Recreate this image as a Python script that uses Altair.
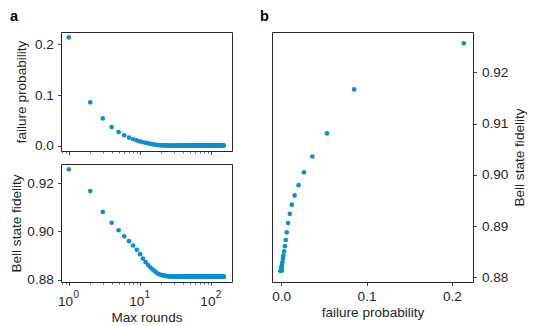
import altair as alt
import pandas as pd

# ---------------- data ----------------
rounds = list(range(1, 151))

failure_prob = [
    0.2140, 0.0855, 0.0537, 0.0366, 0.0267, 0.0204, 0.0158, 0.0125, 0.0102, 0.0082,
    0.0066, 0.0054, 0.0044, 0.0035, 0.0027, 0.0022, 0.0015, 0.0011, 0.0008, 0.0006,
    0.0005, 0.0004, 0.0003, 0.0002, 0.0002, 0.0001, 0.0001, 0.0001, 0.0001, 0.0001,
    0.0, 0.0, 0.0, 0.0, 0.0, 0.0, 0.0, 0.0, 0.0, 0.0,
    0.0, 0.0, 0.0, 0.0, 0.0, 0.0, 0.0, 0.0, 0.0, 0.0,
    0.0, 0.0, 0.0, 0.0, 0.0, 0.0, 0.0, 0.0, 0.0, 0.0,
    0.0, 0.0, 0.0, 0.0, 0.0, 0.0, 0.0, 0.0, 0.0, 0.0,
    0.0, 0.0, 0.0, 0.0, 0.0, 0.0, 0.0, 0.0, 0.0, 0.0,
    0.0, 0.0, 0.0, 0.0, 0.0, 0.0, 0.0, 0.0, 0.0, 0.0,
    0.0, 0.0, 0.0, 0.0, 0.0, 0.0, 0.0, 0.0, 0.0, 0.0,
    0.0, 0.0, 0.0, 0.0, 0.0, 0.0, 0.0, 0.0, 0.0, 0.0,
    0.0, 0.0, 0.0, 0.0, 0.0, 0.0, 0.0, 0.0, 0.0, 0.0,
    0.0, 0.0, 0.0, 0.0, 0.0, 0.0, 0.0, 0.0, 0.0, 0.0,
    0.0, 0.0, 0.0, 0.0, 0.0, 0.0, 0.0, 0.0, 0.0, 0.0,
    0.0, 0.0, 0.0, 0.0, 0.0, 0.0, 0.0, 0.0, 0.0, 0.0,
]

fidelity = [
    0.9257, 0.9167, 0.9081, 0.9036, 0.9005, 0.8980, 0.8960, 0.8942, 0.8924, 0.8906,
    0.8888, 0.8873, 0.8861, 0.8851, 0.8843, 0.8837, 0.8830, 0.8825, 0.8822, 0.8820,
    0.8818, 0.8817, 0.8816, 0.8815, 0.8815, 0.8814, 0.8814, 0.8814, 0.8814, 0.8814,
    0.8813, 0.8813, 0.8813, 0.8813, 0.8813, 0.8813, 0.8813, 0.8813, 0.8813, 0.8813,
    0.8813, 0.8813, 0.8813, 0.8813, 0.8813, 0.8813, 0.8813, 0.8813, 0.8813, 0.8813,
    0.8813, 0.8813, 0.8813, 0.8813, 0.8813, 0.8813, 0.8813, 0.8813, 0.8813, 0.8813,
    0.8813, 0.8813, 0.8813, 0.8813, 0.8813, 0.8813, 0.8813, 0.8813, 0.8813, 0.8813,
    0.8813, 0.8813, 0.8813, 0.8813, 0.8813, 0.8813, 0.8813, 0.8813, 0.8813, 0.8813,
    0.8813, 0.8813, 0.8813, 0.8813, 0.8813, 0.8813, 0.8813, 0.8813, 0.8813, 0.8813,
    0.8813, 0.8813, 0.8813, 0.8813, 0.8813, 0.8813, 0.8813, 0.8813, 0.8813, 0.8813,
    0.8813, 0.8813, 0.8813, 0.8813, 0.8813, 0.8813, 0.8813, 0.8813, 0.8813, 0.8813,
    0.8813, 0.8813, 0.8813, 0.8813, 0.8813, 0.8813, 0.8813, 0.8813, 0.8813, 0.8813,
    0.8813, 0.8813, 0.8813, 0.8813, 0.8813, 0.8813, 0.8813, 0.8813, 0.8813, 0.8813,
    0.8813, 0.8813, 0.8813, 0.8813, 0.8813, 0.8813, 0.8813, 0.8813, 0.8813, 0.8813,
    0.8813, 0.8813, 0.8813, 0.8813, 0.8813, 0.8813, 0.8813, 0.8813, 0.8813, 0.8813,
]

log_tick_values = [0.8, 0.9, 1, 2, 3, 4, 5, 6, 7, 8, 9,
                   10, 20, 30, 40, 50, 60, 70, 80, 90, 100]
decade_ticks = [1, 10, 100]
decade_base = ["10", "10", "10"]
decade_exp = ["0", "1", "2"]
fp_ticks = [0.0, 0.1, 0.2]
fid_ticks_left = [0.88, 0.90, 0.92]
fid_ticks_right = [0.88, 0.89, 0.90, 0.91, 0.92]
panel_a = ["a"]
panel_b = ["b"]

df = pd.DataFrame({"rounds": rounds, "p": failure_prob, "F": fidelity})
ticks_df = pd.DataFrame({"rounds": decade_ticks, "base": decade_base, "exp": decade_exp})

# ---------------- styling ----------------
FONT = "Liberation Sans"
INK = "#262626"
BLUE = "#0b8fd0"
LBL = 13.6
PT = 22

x_log_scale = alt.Scale(type="log", domain=[0.776, 196], nice=False)
fp_scale = alt.Scale(domain=[-0.0107, 0.2247], nice=False, zero=False)
fid_scale = alt.Scale(domain=[0.8791, 0.9279], nice=False, zero=False)

is_major = "datum.value == 1 || datum.value == 10 || datum.value == 100"
tick_size_cond = {"condition": {"test": is_major, "value": 3.4}, "value": 2.0}
tick_width_cond = {"condition": {"test": is_major, "value": 0.9}, "value": 0.7}


def panel_label(letters, xoff, yoff):
    return alt.Chart(pd.DataFrame({"t": letters})).mark_text(
        font=FONT, fontSize=14.5, fontWeight="bold", align="left",
        baseline="top", color="black"
    ).encode(text="t:N", x=alt.value(xoff), y=alt.value(yoff))


# ---------------- panel a (top) ----------------
top_points = alt.Chart(df).mark_circle(size=PT, color=BLUE, opacity=1).encode(
    x=alt.X("rounds:Q", scale=x_log_scale,
            axis=alt.Axis(values=log_tick_values, labels=False, title=None,
                          tickSize=tick_size_cond, tickWidth=tick_width_cond)),
    y=alt.Y("p:Q", scale=fp_scale,
            axis=alt.Axis(values=fp_ticks, format=".1f",
                          title="failure probability", titlePadding=5.5)),
)
top = alt.layer(top_points, panel_label(panel_a, -51, -22)).properties(
    width=171, height=119)

# ---------------- panel a (bottom) ----------------
bottom_points = alt.Chart(df).mark_circle(size=PT, color=BLUE, opacity=1).encode(
    x=alt.X("rounds:Q", scale=x_log_scale,
            axis=alt.Axis(values=log_tick_values, labels=False, title="Max rounds",
                          titlePadding=25, tickSize=tick_size_cond,
                          tickWidth=tick_width_cond)),
    y=alt.Y("F:Q", scale=fid_scale,
            axis=alt.Axis(values=fid_ticks_left, format=".2f",
                          title="Bell state fidelity", titlePadding=3.8)),
)
base_text = alt.Chart(ticks_df).mark_text(
    font=FONT, fontSize=LBL, align="center", baseline="alphabetic",
    dx=-3.3, color=INK
).encode(x=alt.X("rounds:Q", scale=x_log_scale), y=alt.value(142), text="base:N")
exp_text = alt.Chart(ticks_df).mark_text(
    font=FONT, fontSize=10, align="left", baseline="alphabetic",
    dx=4.6, color=INK
).encode(x=alt.X("rounds:Q", scale=x_log_scale), y=alt.value(134.2), text="exp:N")
bottom = alt.layer(bottom_points, base_text, exp_text).properties(
    width=171, height=118)

left = alt.vconcat(top, bottom, spacing=13, bounds="flush")

# ---------------- panel b ----------------
right_points = alt.Chart(df).mark_circle(size=PT, color=BLUE, opacity=1).encode(
    x=alt.X("p:Q", scale=fp_scale,
            axis=alt.Axis(values=fp_ticks, format=".1f", title="failure probability",
                          labelPadding=4, titlePadding=2)),
    y=alt.Y("F:Q", scale=fid_scale,
            axis=alt.Axis(orient="right", values=fid_ticks_right, format=".2f",
                          title="Bell state fidelity", titleAngle=270,
                          titleBaseline="top", titlePadding=5, labelPadding=5)),
)
right = alt.layer(right_points, panel_label(panel_b, -12, -22)).properties(
    width=201, height=250)

chart = alt.hconcat(left, right, spacing=26).properties(
    padding={"left": 0, "top": 0, "right": 2, "bottom": 0}
).configure_axis(
    labelFont=FONT, titleFont=FONT, labelFontSize=LBL, titleFontSize=LBL,
    labelColor=INK, titleColor=INK, titleFontWeight="normal",
    tickColor=INK, tickSize=3.4, tickWidth=0.9, domain=False, grid=False,
    labelPadding=4.3,
).configure_view(stroke=INK, strokeWidth=1)

chart.save("out.html", embed_options={"renderer": "svg", "actions": False})
